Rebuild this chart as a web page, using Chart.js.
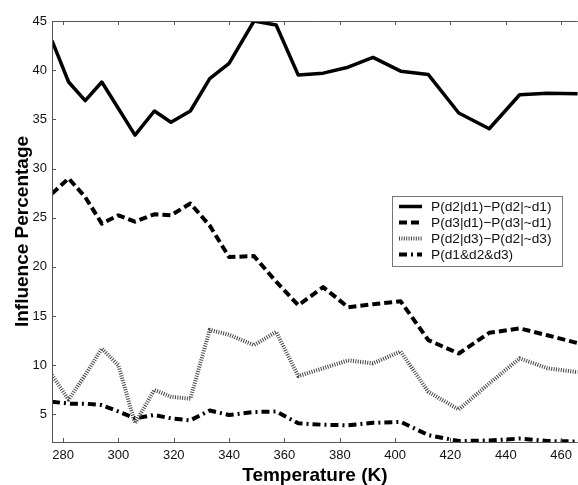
<!DOCTYPE html>
<html>
<head>
<meta charset="utf-8">
<script src="https://cdn.jsdelivr.net/npm/chart.js@4/dist/chart.umd.min.js"></script>
<style>
  html, body { margin: 0; padding: 0; background: #fff; }
  canvas { display: block; }
</style>
</head>
<body>
<canvas id="chart" width="578" height="485"></canvas>
<script>
// temperatures (K) shared by all four curves
const temps = [276, 282, 288, 294, 300, 306, 313, 319, 326, 333, 340, 349, 357, 365, 374, 383, 392, 402, 412, 423, 434, 445, 455, 466];

const d2d1 = [43.0, 38.8, 36.9, 38.8, 36.1, 33.4, 35.85, 34.7, 35.85, 39.15, 40.7, 45.0, 44.6, 39.5, 39.7, 40.3, 41.3, 39.9, 39.55, 35.65, 34.05, 37.5, 37.65, 37.6];
const d3d1 = [27.45, 29.0, 27.1, 24.4, 25.25, 24.6, 25.35, 25.25, 26.45, 24.2, 21.0, 21.1, 18.5, 16.1, 17.95, 15.9, 16.2, 16.5, 12.55, 11.2, 13.3, 13.75, 13.05, 12.25];
const d2d3 = [9.0, 6.5, 9.0, 11.7, 10.0, 4.1, 7.5, 6.8, 6.6, 13.6, 13.1, 12.05, 13.4, 8.9, 9.7, 10.5, 10.2, 11.4, 7.3, 5.5, 8.15, 10.7, 9.7, 9.3];
const d1d2d3 = [6.3, 6.1, 6.1, 5.95, 5.3, 4.6, 4.95, 4.6, 4.4, 5.4, 4.95, 5.25, 5.3, 4.1, 3.95, 3.9, 4.15, 4.25, 2.9, 2.3, 2.35, 2.55, 2.3, 2.25];

const labels = ['P(d2|d1)\u2212P(d2|~d1)', 'P(d3|d1)\u2212P(d3|~d1)', 'P(d2|d3)\u2212P(d2|~d3)', 'P(d1&d2&d3)'];
const xTicks = [280, 300, 320, 340, 360, 380, 400, 420, 440, 460];
const yTicks = [5, 10, 15, 20, 25, 30, 35, 40, 45];

const font = "'Liberation Sans', Arial, Helvetica, sans-serif";
const toPts = arr => arr.map((v, i) => ({ x: temps[i], y: v }));

const series = [
    { data: d2d1, color: '#000', width: 3.5, dash: [] },
    { data: d3d1, color: '#000', width: 4, dash: [8, 4] },
    { data: d2d3, color: '#444', width: 4, dash: [1, 1.4] },
    { data: d1d2d3, color: '#000', width: 4, dash: [8, 4, 2, 4] }
];

// frame with inward tick marks, like the original plot
const framePlugin = {
    id: 'frame',
    afterDraw(chart) {
        const { ctx, chartArea: { left, top, right, bottom }, scales: { x, y } } = chart;
        ctx.save();
        ctx.strokeStyle = '#555';
        ctx.lineWidth = 1;
        ctx.beginPath();
        ctx.moveTo(left + 0.5, bottom + 0.5);
        ctx.lineTo(left + 0.5, top + 0.5);
        ctx.lineTo(right, top + 0.5);
        ctx.moveTo(left, bottom + 0.5);
        ctx.lineTo(right, bottom + 0.5);
        xTicks.forEach(v => {
            const px = Math.round(x.getPixelForValue(v)) + 0.5;
            ctx.moveTo(px, bottom); ctx.lineTo(px, bottom - 4);
            ctx.moveTo(px, top); ctx.lineTo(px, top + 4);
        });
        yTicks.forEach(v => {
            const py = Math.round(y.getPixelForValue(v)) + 0.5;
            ctx.moveTo(left, py); ctx.lineTo(left + 4, py);
        });
        ctx.stroke();
        ctx.restore();
    }
};

// boxed legend inside the plot, right side
const legendPlugin = {
    id: 'boxLegend',
    afterDraw(chart) {
        const { ctx } = chart;
        const bx = 392, by = 196, bw = 170, bh = 70;
        ctx.save();
        ctx.fillStyle = '#fff';
        ctx.fillRect(bx, by, bw, bh);
        ctx.strokeStyle = '#777';
        ctx.lineWidth = 1;
        ctx.strokeRect(bx + 0.5, by + 0.5, bw, bh);
        chart.data.datasets.forEach((ds, i) => {
            const cy = by + 10.5 + i * 16;
            ctx.beginPath();
            ctx.strokeStyle = ds.borderColor;
            ctx.lineWidth = ds.borderWidth;
            ctx.setLineDash(ds.borderDash);
            ctx.moveTo(399, cy);
            ctx.lineTo(422, cy);
            ctx.stroke();
            ctx.setLineDash([]);
            ctx.fillStyle = '#111';
            ctx.font = '13.7px ' + font;
            ctx.textBaseline = 'middle';
            ctx.fillText(ds.label, 431, cy + 0.5);
        });
        ctx.restore();
    }
};

new Chart(document.getElementById('chart'), {
    type: 'line',
    data: {
        datasets: series.map((s, i) => ({
            label: labels[i],
            data: toPts(s.data),
            borderColor: s.color,
            borderWidth: s.width,
            borderDash: s.dash,
            borderCapStyle: 'butt',
            borderJoinStyle: 'round',
            pointRadius: 0,
            tension: 0,
            fill: false
        }))
    },
    options: {
        responsive: false,
        animation: false,
        devicePixelRatio: 1,
        layout: { padding: { top: 21, right: 0, left: 0, bottom: 0 } },
        plugins: { legend: { display: false }, tooltip: { enabled: false } },
        scales: {
            x: {
                type: 'linear',
                min: 276,
                max: 466,
                afterBuildTicks: scale => { scale.ticks = xTicks.map(v => ({ value: v })); },
                afterFit: scale => { scale.height = 43; },
                grid: { display: false, drawTicks: false },
                border: { display: false },
                ticks: { color: '#111', padding: 6, maxRotation: 0, font: { family: font, size: 13 } },
                title: {
                    display: true,
                    text: 'Temperature (K)',
                    color: '#000',
                    padding: { top: 0, bottom: -0.5 },
                    font: { family: font, size: 19, weight: 'bold', lineHeight: 1 }
                }
            },
            y: {
                min: 2.2,
                max: 45,
                afterBuildTicks: scale => { scale.ticks = yTicks.map(v => ({ value: v })); },
                afterFit: scale => { scale.width = 52; },
                grid: { display: false, drawTicks: false },
                border: { display: false },
                ticks: { color: '#111', padding: 5, font: { family: font, size: 13 } },
                title: {
                    display: true,
                    text: 'Influence Percentage',
                    color: '#000',
                    padding: { top: 13, bottom: 0 },
                    font: { family: font, size: 19, weight: 'bold', lineHeight: 1 }
                }
            }
        }
    },
    plugins: [framePlugin, legendPlugin]
});
</script>
</body>
</html>
